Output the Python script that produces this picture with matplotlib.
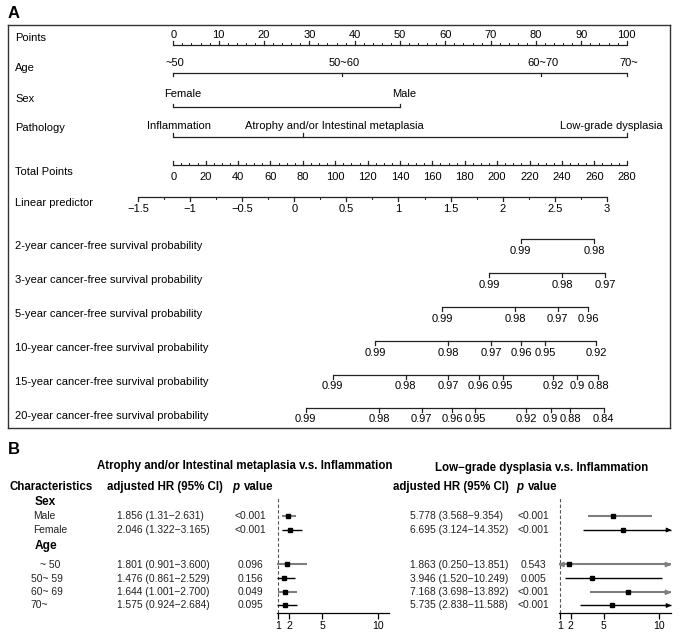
import matplotlib
matplotlib.use('Agg')
import matplotlib.pyplot as plt
import numpy as np

plt.rcParams['font.family'] = ['Liberation Sans', 'DejaVu Sans']

W, H, DPI = 679, 637, 100

# ---------------- data : panel A (nomogram) ----------------
row_labels = ['Points', 'Age', 'Sex', 'Pathology', 'Total Points', 'Linear predictor',
              '2-year cancer-free survival probability', '3-year cancer-free survival probability',
              '5-year cancer-free survival probability', '10-year cancer-free survival probability',
              '15-year cancer-free survival probability', '20-year cancer-free survival probability']
points_ticks = list(range(0, 101, 10))
age_levels = ['~50', '50~60', '60~70', '70~']
age_points = [0, 37.3, 81.2, 100]
sex_levels = ['Female', 'Male']
sex_points = [0, 50.0]
path_levels = ['Inflammation', 'Atrophy and/or Intestinal metaplasia', 'Low-grade dysplasia']
path_points = [0, 28.7, 100]
total_ticks = list(range(0, 281, 20))
total_max = 280
lp_ticks = [-1.5, -1, -0.5, 0, 0.5, 1, 1.5, 2, 2.5, 3]
lp_tick_labels = ['\u22121.5', '\u22121', '\u22120.5', '0', '0.5', '1', '1.5', '2', '2.5', '3']
lp_total_at_zero = 74.7      # total points where linear predictor = 0
lp_total_per_unit = 64.36    # total points per unit of linear predictor

surv_2y_prob = [0.99, 0.98]
surv_2y_total = [214.6, 259.8]
surv_3y_prob = [0.99, 0.98, 0.97]
surv_3y_total = [195.0, 240.0, 266.6]
surv_5y_prob = [0.99, 0.98, 0.97, 0.96]
surv_5y_total = [166.0, 211.1, 237.4, 256.4]
surv_10y_prob = [0.99, 0.98, 0.97, 0.96, 0.95, 0.92]
surv_10y_total = [124.6, 169.8, 196.3, 215.0, 229.8, 261.3]
surv_15y_prob = [0.99, 0.98, 0.97, 0.96, 0.95, 0.92, 0.90, 0.88]
surv_15y_total = [98.5, 143.5, 169.8, 188.7, 203.3, 234.5, 249.6, 262.5]
surv_20y_prob = [0.99, 0.98, 0.97, 0.96, 0.95, 0.92, 0.90, 0.88, 0.84]
surv_20y_total = [81.8, 127.0, 153.4, 172.2, 186.6, 218.1, 233.0, 245.2, 265.9]

# ---------------- data : panel B (forest) ----------------
left_title = 'Atrophy and/or Intestinal metaplasia v.s. Inflammation'
right_title = 'Low\u2212grade dysplasia v.s. Inflammation'
groups = ['Sex', 'Age']
rows = ['Male', 'Female', '~ 50', '50~ 59', '60~ 69', '70~']
left_hr = [1.856, 2.046, 1.801, 1.476, 1.644, 1.575]
left_lo = [1.31, 1.322, 0.901, 0.861, 1.001, 0.924]
left_hi = [2.631, 3.165, 3.600, 2.529, 2.700, 2.684]
left_hr_text = ['1.856 (1.31\u22122.631)', '2.046 (1.322\u22123.165)', '1.801 (0.901\u22123.600)',
                '1.476 (0.861\u22122.529)', '1.644 (1.001\u22122.700)', '1.575 (0.924\u22122.684)']
left_p = ['<0.001', '<0.001', '0.096', '0.156', '0.049', '0.095']
right_hr = [5.778, 6.695, 1.863, 3.946, 7.168, 5.735]
right_lo = [3.568, 3.124, 0.250, 1.520, 3.698, 2.838]
right_hi = [9.354, 14.352, 13.851, 10.249, 13.892, 11.588]
right_hr_text = ['5.778 (3.568\u22129.354)', '6.695 (3.124\u221214.352)', '1.863 (0.250\u221213.851)',
                 '3.946 (1.520\u221210.249)', '7.168 (3.698\u221213.892)', '5.735 (2.838\u221211.588)']
right_p = ['<0.001', '<0.001', '0.543', '0.005', '<0.001', '<0.001']
hr_ticks = [1, 2, 5, 10]

# ---------------- layout helpers ----------------
fig = plt.figure(figsize=(W / DPI, H / DPI), dpi=DPI)


def fx(x):
    return x / W


def fy(y):
    return 1 - y / H


def box(x0, y0, x1, y1):
    return [x0 / W, 1 - y1 / H, (x1 - x0) / W, (y1 - y0) / H]


FS_A = 8
LINE = '#222222'
LW = 0.9

# ---------------- panel A ----------------
fig.text(fx(8), fy(14), 'A', fontsize=12, fontweight='bold', ha='left', va='center')
X0_PX, PX_PER_PT = 173.3, 4.534
axA = fig.add_axes(box(8, 25, 670, 428))
axA.set_xlim((8 - X0_PX) / PX_PER_PT, (670 - X0_PX) / PX_PER_PT)
axA.set_ylim(428, 25)
axA.set_xticks([])
axA.set_yticks([])
for s in axA.spines.values():
    s.set_color('#333333')
    s.set_linewidth(1.0)


def tot2pts(t):
    return np.asarray(t, dtype=float) * 100.0 / total_max


def scale(y, pos, labels, label_pos, tick_dir, label_y, minor=None, tick_len=3.5):
    pos = np.asarray(pos, dtype=float)
    axA.plot([pos.min(), pos.max()], [y, y], color=LINE, lw=LW, solid_capstyle='butt')
    for p in pos:
        axA.plot([p, p], [y, y + tick_dir * tick_len], color=LINE, lw=LW)
    if minor is not None:
        for p in minor:
            axA.plot([p, p], [y, y + tick_dir * 2.0], color=LINE, lw=0.7)
    for lp, lab in zip(label_pos, labels):
        axA.text(lp, label_y, lab, fontsize=FS_A, ha='center', va='center')


row_label_y = [37.7, 68.3, 99, 127.7, 172.3, 202.7, 246.5, 280, 314, 348, 382, 416]
for lab, y in zip(row_labels, row_label_y):
    fig.text(fx(15), fy(y), lab, fontsize=FS_A, ha='left', va='center')

# Points
scale(45, points_ticks, [str(v) for v in points_ticks], points_ticks, -1, 35.0,
      minor=np.arange(0, 101, 2), tick_len=4)
# Age
scale(72.7, age_points, age_levels, [a + 0.4 for a in age_points], 1, 63.3)
# Sex
sex_lab_dx = [9 / PX_PER_PT, 4 / PX_PER_PT]
scale(107.3, sex_points, sex_levels, [p + d for p, d in zip(sex_points, sex_lab_dx)], -1, 94.3)
# Pathology
path_lab_dx = [6 / PX_PER_PT, 31 / PX_PER_PT, -15 / PX_PER_PT]
scale(136.7, path_points, path_levels, [p + d for p, d in zip(path_points, path_lab_dx)], -1, 126)
# Total points
scale(165, tot2pts(total_ticks), [str(v) for v in total_ticks], tot2pts(total_ticks), -1, 176.5,
      minor=tot2pts(np.arange(0, 281, 5)), tick_len=4)
# Linear predictor
lp_pos = tot2pts(lp_total_at_zero + lp_total_per_unit * np.asarray(lp_ticks))
lp_minor = tot2pts(lp_total_at_zero + lp_total_per_unit * np.arange(-1.5, 3.01, 0.25))
scale(197.3, lp_pos, lp_tick_labels, lp_pos, 1, 209, minor=lp_minor, tick_len=4)

# survival scales
surv = [(surv_2y_prob, surv_2y_total, 239), (surv_3y_prob, surv_3y_total, 273),
        (surv_5y_prob, surv_5y_total, 307), (surv_10y_prob, surv_10y_total, 341),
        (surv_15y_prob, surv_15y_total, 374.5), (surv_20y_prob, surv_20y_total, 408)]
for prob, tot, y in surv:
    pos = tot2pts(tot)
    scale(y, pos, ['%g' % p for p in prob], pos, 1, y + 11.5, tick_len=4)

# ---------------- panel B ----------------
fig.text(fx(8), fy(450), 'B', fontsize=12, fontweight='bold', ha='left', va='center')
FS_H = 8.3
FS_R = 7.4
fig.text(fx(244.3), fy(466.5), left_title, fontsize=FS_H, fontweight='bold', ha='center', va='center')
fig.text(fx(541.7), fy(467.5), right_title, fontsize=FS_H, fontweight='bold', ha='center', va='center')
fig.text(fx(10), fy(487), 'Characteristics', fontsize=FS_H, fontweight='bold', ha='left', va='center')
for xh, xp, xv in [(107.3, 232.3, 244), (393.3, 516, 527.7)]:
    fig.text(fx(xh), fy(487), 'adjusted HR (95% CI)', fontsize=FS_H, fontweight='bold', ha='left', va='center')
    fig.text(fx(xp), fy(487), 'p', fontsize=FS_H, fontweight='bold', style='italic', ha='left', va='center')
    fig.text(fx(xv), fy(487), 'value', fontsize=FS_H, fontweight='bold', ha='left', va='center')

group_y = [502, 546]
for g, y in zip(groups, group_y):
    fig.text(fx(34.3), fy(y), g, fontsize=FS_H + 0.3, fontweight='bold', ha='left', va='center')

row_y = [516, 530, 564.5, 578.5, 592.3, 605.5]
row_x = [32.7, 32.7, 40, 30.7, 30.7, 30.7]
for lab, x, y in zip(rows, row_x, row_y):
    fig.text(fx(x), fy(y), lab, fontsize=FS_R, ha='left', va='center', color='#222222')
for i, y in enumerate(row_y):
    fig.text(fx(117.3), fy(y), left_hr_text[i], fontsize=FS_R, ha='left', va='center', color='#222222')
    fig.text(fx(250), fy(y), left_p[i], fontsize=FS_R, ha='center', va='center', color='#222222')
    fig.text(fx(410), fy(y), right_hr_text[i], fontsize=FS_R, ha='left', va='center', color='#222222')
    fig.text(fx(533.5), fy(y), right_p[i], fontsize=FS_R, ha='center', va='center', color='#222222')

line_colors = ['#7f7f7f', 'black', '#7f7f7f', 'black', '#7f7f7f', 'black']
line_widths = [1.5, 1.0, 1.5, 1.0, 1.5, 1.0]


def forest(rect, xlim, hr, lo, hi, arrow_lo):
    ax = fig.add_axes(box(*rect))
    ax.set_xlim(*xlim)
    ax.set_ylim(613, 497)
    for side in ['top', 'right', 'left']:
        ax.spines[side].set_visible(False)
    ax.spines['bottom'].set_color('black')
    ax.spines['bottom'].set_linewidth(0.9)
    ax.set_yticks([])
    ax.set_xticks(hr_ticks)
    ax.set_xticklabels([str(t) for t in hr_ticks])
    ax.tick_params(axis='x', length=4, width=0.9, pad=1.5, labelsize=7.6)
    ax.patch.set_alpha(0)
    ax.axvline(1, color='#555555', lw=0.8, ls=(0, (3, 2)))
    xmin, xmax = xlim
    for i, y in enumerate(row_y):
        c, lw = line_colors[i], line_widths[i]
        l = max(lo[i], arrow_lo)
        r = min(hi[i], xmax)
        ax.plot([l, r], [y, y], color=c, lw=lw, clip_on=False, solid_capstyle='butt')
        if hi[i] > xmax:
            ax.annotate('', xy=(xmax + 0.05, y), xytext=(xmax - 0.3, y),
                        arrowprops=dict(arrowstyle='-|>', color=c, lw=lw, mutation_scale=6,
                                        shrinkA=0, shrinkB=0), annotation_clip=False)
        if lo[i] < arrow_lo:
            ax.annotate('', xy=(arrow_lo - 0.1, y), xytext=(arrow_lo + 0.3, y),
                        arrowprops=dict(arrowstyle='-|>', color=c, lw=lw, mutation_scale=6,
                                        shrinkA=0, shrinkB=0), annotation_clip=False)
        ax.plot([hr[i]], [y], marker='s', ms=2.8, color='black', mec='black', clip_on=False)
    return ax


forest((277, 497, 388.7, 613), (0.882, 11.0), left_hr, left_lo, left_hi, 0.5)
forest((559.3, 497, 670.7, 613), (0.964, 11.03), right_hr, right_lo, right_hi, 0.964)

fig.savefig('out.png', dpi=DPI)
